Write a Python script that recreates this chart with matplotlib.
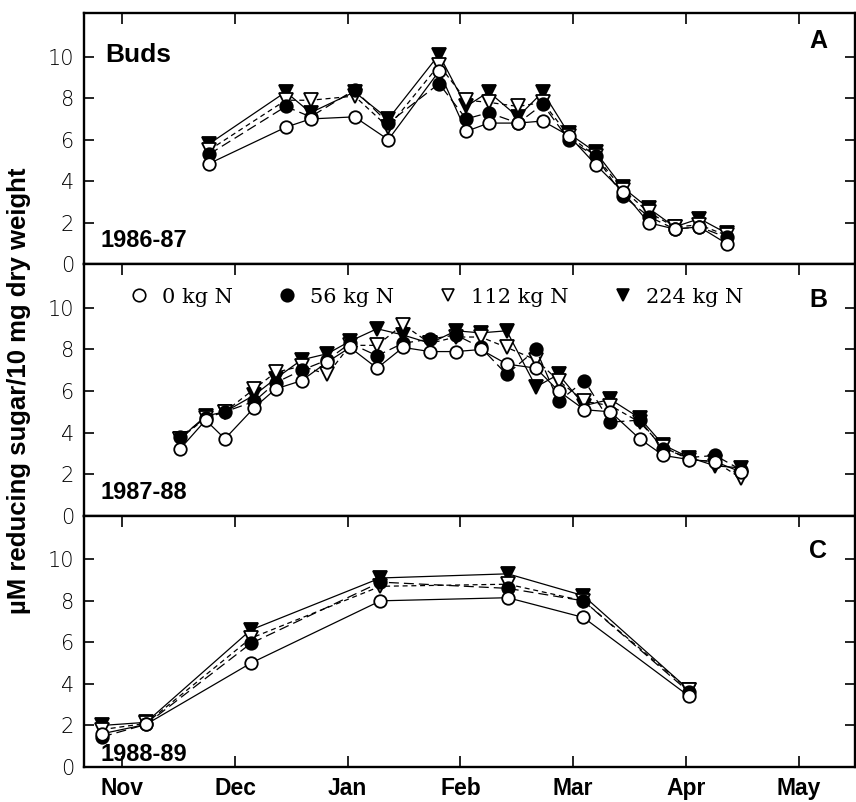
import matplotlib
matplotlib.use("Agg")
import matplotlib.pyplot as plt
from matplotlib.lines import Line2D

# x positions are in months after 1 Nov (Nov=0, Dec=1, ...)
MONTHS = ['Nov', 'Dec', 'Jan', 'Feb', 'Mar', 'Apr', 'May']
TREATMENTS = ['0 kg N', '56 kg N', '112 kg N', '224 kg N']

# panel A, 1986-87
x_a = [0.77, 1.45, 1.67, 2.06, 2.36, 2.81, 3.05, 3.25, 3.51, 3.73, 3.96, 4.20, 4.44, 4.67, 4.90, 5.12, 5.36]
a_n0 = [4.85, 6.6, 7.0, 7.1, 6.0, 9.3, 6.4, 6.8, 6.8, 6.9, 6.2, 4.8, 3.5, 2.0, 1.7, 1.8, 1.0]
a_n56 = [5.3, 7.6, 7.1, 8.4, 6.8, 8.7, 7.0, 7.3, 6.8, 7.7, 6.0, 5.2, 3.3, 2.3, 1.7, 1.8, 1.3]
a_n112 = [5.5, 7.9, 7.9, 8.1, 6.6, 9.6, 7.9, 7.8, 7.6, 7.8, 6.2, 5.2, 3.6, 2.5, 1.8, 1.9, 1.4]
a_n224 = [5.8, 8.3, 7.3, 8.3, 7.0, 10.1, 7.6, 8.3, 7.1, 8.3, 6.3, 5.4, 3.7, 2.7, 1.8, 2.2, 1.5]

# panel B, 1987-88
x_b = [0.51, 0.74, 0.91, 1.17, 1.36, 1.59, 1.82, 2.02, 2.26, 2.49, 2.73, 2.96, 3.18, 3.41,
       3.67, 3.87, 4.10, 4.33, 4.59, 4.80, 5.03, 5.26, 5.49]
b_n0 = [3.2, 4.6, 3.7, 5.2, 6.1, 6.5, 7.4, 8.1, 7.1, 8.1, 7.9, 7.9, 8.0, 7.3,
        7.1, 6.0, 5.1, 5.0, 3.7, 2.9, 2.7, 2.6, 2.1]
b_n56 = [3.8, 4.7, 5.0, 5.5, 6.4, 7.0, 7.5, 8.3, 7.7, 8.3, 8.5, 8.7, 8.1, 6.8,
         8.0, 5.5, 6.5, 4.5, 4.6, 3.2, 2.8, 2.9, 2.2]
b_n112 = [3.7, 4.7, 5.0, 6.1, 6.9, 7.2, 6.8, 8.2, 8.2, 9.2, 8.3, 8.6, 8.6, 8.1,
          7.5, 6.5, 5.5, 5.3, 4.5, 3.3, 2.7, 2.6, 1.8]
b_n224 = [3.7, 4.8, 5.0, 5.8, 6.6, 7.5, 7.8, 8.4, 9.0, 8.7, 8.3, 8.9, 8.8, 8.9,
          6.2, 6.8, 5.3, 5.6, 4.7, 3.4, 2.8, 2.4, 2.3]

# panel C, 1988-89
x_c = [-0.18, 0.21, 1.14, 2.29, 3.42, 4.09, 5.03]
c_n0 = [1.6, 2.05, 5.0, 8.0, 8.15, 7.2, 3.4]
c_n56 = [1.45, 2.05, 5.95, 8.9, 8.6, 8.0, 3.6]
c_n112 = [1.8, 2.1, 6.2, 8.7, 8.8, 8.0, 3.7]
c_n224 = [2.0, 2.15, 6.6, 9.1, 9.3, 8.25, 3.7]

STYLES = {
    '0 kg N': dict(marker='o', mfc='white', ls='-', dashes=(None, None)),
    '56 kg N': dict(marker='o', mfc='black', ls='--', dashes=(8, 4)),
    '112 kg N': dict(marker='v', mfc='white', ls='--', dashes=(4, 3)),
    '224 kg N': dict(marker='v', mfc='black', ls='-', dashes=(None, None)),
}


def draw_series(ax, x, series):
    for name in ['224 kg N', '112 kg N', '56 kg N', '0 kg N']:
        st = STYLES[name]
        kw = dict(color='black', lw=0.9, marker=st['marker'], mfc=st['mfc'],
                  mec='black', mew=1.3, ms=9.5 if st['marker'] == 'v' else 9)
        if st['ls'] == '--':
            ax.plot(x, series[name], ls='--', dashes=st['dashes'], **kw)
        else:
            ax.plot(x, series[name], ls='-', **kw)


def style_axis(ax, bottom_labels):
    ax.set_xlim(-0.34, 6.5)
    ax.set_ylim(0, 12.1)
    ax.set_xticks(range(len(MONTHS)))
    ax.set_yticks([0, 2, 4, 6, 8, 10])
    ax.tick_params(axis='x', direction='in', top=True, bottom=bottom_labels,
                   labelbottom=bottom_labels, length=8, width=1.2, pad=7)
    ax.tick_params(axis='y', direction='in', left=True, right=True,
                   length=7, width=1.2, pad=7, labelsize=15)
    for lab in ax.get_yticklabels():
        lab.set_fontfamily('DejaVu Sans')
        lab.set_fontweight('light')
    if bottom_labels:
        ax.set_xticklabels(MONTHS, fontsize=16.5, fontweight='bold', family='Liberation Sans')
    for sp in ax.spines.values():
        sp.set_linewidth(1.7)


def main():
    fig, axes = plt.subplots(3, 1, figsize=(8.56, 8.02), dpi=100)
    fig.subplots_adjust(left=84 / 856, right=855 / 856, top=1 - 13 / 802,
                        bottom=1 - 767 / 802, hspace=0)

    panels = [
        (x_a, {'0 kg N': a_n0, '56 kg N': a_n56, '112 kg N': a_n112, '224 kg N': a_n224}, 'A', '1986-87'),
        (x_b, {'0 kg N': b_n0, '56 kg N': b_n56, '112 kg N': b_n112, '224 kg N': b_n224}, 'B', '1987-88'),
        (x_c, {'0 kg N': c_n0, '56 kg N': c_n56, '112 kg N': c_n112, '224 kg N': c_n224}, 'C', '1988-89'),
    ]
    letter_y = [0.89, 0.857, 0.861]
    year_y = [0.096, 0.092, 0.048]

    for i, (ax, (x, series, letter, season)) in enumerate(zip(axes, panels)):
        draw_series(ax, x, series)
        style_axis(ax, bottom_labels=(i == 2))
        ax.text(0.952, letter_y[i], letter, transform=ax.transAxes, ha='center', va='center',
                fontsize=18, fontweight='bold', family='Liberation Sans')
        ax.text(0.021, year_y[i], season, transform=ax.transAxes, ha='left', va='center',
                fontsize=17, fontweight='bold', family='Liberation Sans')

    axes[0].text(0.027, 0.833, 'Buds', transform=axes[0].transAxes, ha='left', va='center',
                 fontsize=19, fontweight='bold', family='Liberation Sans')

    handles = [Line2D([], [], ls='none', marker=STYLES[n]['marker'], mfc=STYLES[n]['mfc'],
                      mec='black', mew=1.2, ms=9) for n in TREATMENTS]
    axes[1].legend(handles, TREATMENTS, loc='center', bbox_to_anchor=(0.458, 0.87), ncol=4,
                   frameon=False, handlelength=0.8, handletextpad=0.7, columnspacing=2.2,
                   prop={'family': 'DejaVu Serif', 'size': 15})

    fig.text(19 / 856, 1 - 391 / 802, '\u00b5M reducing sugar/10 mg dry weight', rotation=90,
             ha='center', va='center', fontsize=18.5, fontweight='bold', family='Liberation Sans')

    plt.savefig('out.png', dpi=100)
    plt.close()


if __name__ == "__main__":
    main()
